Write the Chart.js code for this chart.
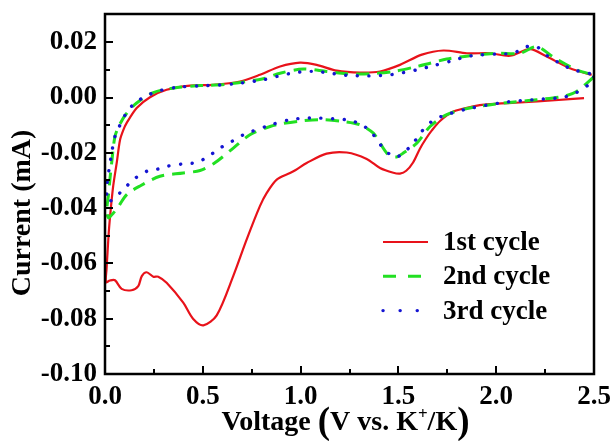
<!DOCTYPE html>
<html>
<head>
<meta charset="utf-8">
<script src="https://cdn.jsdelivr.net/npm/chart.js@4.4.1/dist/chart.umd.min.js"></script>
<style>
  html, body { margin: 0; padding: 0; background: #fff; }
  canvas { display: block; }
</style>
</head>
<body>
<canvas id="cv" width="614" height="441"></canvas>
<script>
// Cyclic voltammetry, three scans. Voltage (V vs. K+/K) and current (mA), in scan order.
const cycle1V = [2.449, 2.30, 2.122, 1.951, 1.883, 1.781, 1.713, 1.670, 1.640, 1.610,
  1.575, 1.540, 1.508, 1.474, 1.406, 1.338, 1.236, 1.133, 1.031, 0.975,
  0.946, 0.878, 0.827, 0.792, 0.724, 0.656, 0.571, 0.503, 0.45, 0.400,
  0.315, 0.272, 0.247, 0.213, 0.188, 0.170, 0.136, 0.085, 0.051, 0.025,
  0.005, 0.008, 0.013, 0.020, 0.030, 0.042, 0.060, 0.077, 0.094, 0.111,
  0.162, 0.230, 0.315, 0.435, 0.554, 0.690, 0.792, 0.895, 0.997, 1.082,
  1.185, 1.304, 1.406, 1.508, 1.620, 1.730, 1.850, 1.968, 2.071, 2.173,
  2.258, 2.377, 2.488];
const cycle1I = [-0.0002, -0.0010, -0.0018, -0.0025, -0.0032, -0.0051, -0.0085, -0.0120, -0.0150, -0.0185,
  -0.0235, -0.0265, -0.0275, -0.0272, -0.0255, -0.0222, -0.0199, -0.0203, -0.0237, -0.0262,
  -0.0273, -0.0297, -0.0345, -0.0393, -0.0514, -0.0645, -0.0788, -0.0824, -0.0800, -0.0742,
  -0.0670, -0.0648, -0.0648, -0.0632, -0.0646, -0.0682, -0.0697, -0.0692, -0.0661, -0.0662,
  -0.0668, -0.0620, -0.0560, -0.0480, -0.0400, -0.0320, -0.0236, -0.0153, -0.0117, -0.0092,
  -0.0038, 0.0001, 0.0028, 0.0043, 0.0046, 0.0058, 0.0082, 0.0112, 0.0126, 0.0118,
  0.0097, 0.0090, 0.0094, 0.0118, 0.0155, 0.0170, 0.0160, 0.0160, 0.0151, 0.0175,
  0.0148, 0.0106, 0.0082];

const cycle2V = [2.500, 2.411, 2.343, 2.207, 2.036, 1.866, 1.747, 1.662, 1.594, 1.525,
  1.491, 1.465, 1.440, 1.406, 1.372, 1.304, 1.219, 1.099, 1.000, 0.900,
  0.844, 0.741, 0.656, 0.560, 0.486, 0.400, 0.281, 0.179, 0.111, 0.068,
  0.040, 0.017, 0.010, 0.017, 0.026, 0.034, 0.051, 0.077, 0.110, 0.162,
  0.247, 0.367, 0.486, 0.622, 0.809, 0.895, 1.014, 1.133, 1.236, 1.355,
  1.474, 1.594, 1.662, 1.747, 1.866, 2.003, 2.122, 2.207, 2.292, 2.411, 2.496];
const cycle2I = [0.0075, 0.0022, 0.0004, -0.0008, -0.0020, -0.0038, -0.0062, -0.0105, -0.0165, -0.0201,
  -0.0215, -0.0213, -0.0201, -0.0165, -0.0129, -0.0099, -0.0087, -0.0080, -0.0085, -0.0095,
  -0.0105, -0.0135, -0.0183, -0.0237, -0.0264, -0.0273, -0.0285, -0.0320, -0.0351, -0.0395,
  -0.0420, -0.0435, -0.0400, -0.0357, -0.0290, -0.0237, -0.0141, -0.0095, -0.0058, -0.0020,
  0.0018, 0.0036, 0.0043, 0.0048, 0.0068, 0.0088, 0.0103, 0.0094, 0.0086, 0.0086,
  0.0094, 0.0112, 0.0124, 0.0139, 0.0151, 0.0160, 0.0160, 0.0184, 0.0146, 0.0100, 0.0082];

const cycle3V = [2.500, 2.471, 2.410, 2.343, 2.190, 2.036, 1.849, 1.730, 1.670, 1.619,
  1.576, 1.525, 1.491, 1.455, 1.415, 1.372, 1.321, 1.253, 1.168, 1.082,
  1.014, 0.946, 0.835, 0.707, 0.648, 0.588, 0.528, 0.469, 0.400, 0.315,
  0.264, 0.213, 0.145, 0.094, 0.042, 0.015, 0.009, 0.012, 0.022, 0.034,
  0.051, 0.077, 0.111, 0.153, 0.213, 0.281, 0.383, 0.520, 0.656, 0.809,
  0.878, 0.954, 1.022, 1.082, 1.150, 1.210, 1.270, 1.338, 1.389, 1.457,
  1.525, 1.594, 1.662, 1.781, 1.849, 1.917, 2.019, 2.087, 2.156, 2.207,
  2.266, 2.326, 2.394, 2.463, 2.500];
const cycle3I = [0.0075, 0.0046, 0.0018, 0.0001, -0.0008, -0.0018, -0.0042, -0.0066, -0.0087, -0.0123,
  -0.0165, -0.0201, -0.0215, -0.0205, -0.0177, -0.0135, -0.0102, -0.0083, -0.0077, -0.0074,
  -0.0075, -0.0080, -0.0102, -0.0135, -0.0159, -0.0183, -0.0213, -0.0235, -0.0240, -0.0249,
  -0.0260, -0.0267, -0.0297, -0.0333, -0.0367, -0.0378, -0.0360, -0.0303, -0.0255, -0.0201,
  -0.0141, -0.0099, -0.0054, -0.0020, 0.0006, 0.0025, 0.0038, 0.0043, 0.0049, 0.0064,
  0.0076, 0.0088, 0.0094, 0.0094, 0.0088, 0.0082, 0.0079, 0.0078, 0.0079, 0.0082,
  0.0090, 0.0100, 0.0112, 0.0134, 0.0148, 0.0154, 0.0158, 0.0160, 0.0184, 0.0184,
  0.0148, 0.0124, 0.0100, 0.0090, 0.0080];

const seriesLabels = ['1st cycle', '2nd cycle', '3rd cycle'];

const xTicks = [0, 0.5, 1.0, 1.5, 2.0, 2.5];
const xTickLabels = ['0.0', '0.5', '1.0', '1.5', '2.0', '2.5'];
const xMinorTicks = [0.25, 0.75, 1.25, 1.75, 2.25];
const yTicks = [-0.10, -0.08, -0.06, -0.04, -0.02, 0.00, 0.02];
const yTickLabels = ['-0.10', '-0.08', '-0.06', '-0.04', '-0.02', '0.00', '0.02'];
const yMinorTicks = [-0.09, -0.07, -0.05, -0.03, -0.01, 0.01];

const yTitle = 'Current (mA)';
const xTitleParts = [
  { text: 'Voltage ', size: 28, rise: 0 },
  { text: '(', size: 37, rise: 0 },
  { text: 'V vs. K', size: 28, rise: 0 },
  { text: '+', size: 17, rise: 11 },
  { text: '/K', size: 28, rise: 0 },
  { text: ')', size: 37, rise: 0 }
];

const SERIF = "'Liberation Serif', 'Times New Roman', serif";
const toPoints = (vs, is) => vs.map((v, k) => ({ x: v, y: is[k] }));

// Closed frame with inward tick marks on the left and bottom axes.
const frameAndTicks = {
  id: 'frameAndTicks',
  afterDatasetsDraw(chart) {
    const { ctx, chartArea: a, scales: { x, y } } = chart;
    ctx.save();
    ctx.strokeStyle = '#000';
    ctx.lineWidth = 2;
    ctx.beginPath();
    const tick = (vals, len, horiz) => vals.forEach(v => {
      if (horiz) {
        const px = Math.round(x.getPixelForValue(v));
        ctx.moveTo(px, a.bottom); ctx.lineTo(px, a.bottom - len);
      } else {
        const py = Math.round(y.getPixelForValue(v));
        ctx.moveTo(a.left, py); ctx.lineTo(a.left + len, py);
      }
    });
    tick(xTicks, 8, true); tick(xMinorTicks, 5, true);
    tick(yTicks, 8, false); tick(yMinorTicks, 5, false);
    ctx.stroke();
    ctx.lineWidth = 2.5;
    ctx.strokeRect(a.left, a.top, a.right - a.left, a.bottom - a.top);
    ctx.restore();
  }
};

// Legend inside the plot, lower right.
const legendDash = [[], [13, 12], [0.1, 17]];
const legendBox = {
  id: 'legendBox',
  afterDraw(chart) {
    const { ctx, chartArea: a } = chart;
    const x0 = a.left + 278, x1 = x0 + 45, tx = x0 + 60;
    chart.data.datasets.forEach((ds, i) => {
      const yy = a.top + 228 + i * 34.3;
      ctx.save();
      ctx.strokeStyle = ds.borderColor;
      ctx.lineWidth = ds.borderWidth;
      ctx.lineCap = ds.borderCapStyle || 'butt';
      ctx.setLineDash(legendDash[i]);
      ctx.beginPath(); ctx.moveTo(x0, yy); ctx.lineTo(x1, yy); ctx.stroke();
      ctx.setLineDash([]);
      ctx.fillStyle = '#000';
      ctx.font = `bold 27px ${SERIF}`;
      ctx.textAlign = 'left';
      ctx.textBaseline = 'middle';
      ctx.fillText(ds.label, tx, yy + 1);
      ctx.restore();
    });
  }
};

// Axis titles; the x title has tall brackets and a superscript.
const axisTitles = {
  id: 'axisTitles',
  afterDraw(chart) {
    const { ctx, chartArea: a } = chart;
    ctx.save();
    ctx.fillStyle = '#000';
    ctx.font = `bold 28px ${SERIF}`;
    ctx.translate(23, 213);
    ctx.rotate(-Math.PI / 2);
    ctx.textAlign = 'center';
    ctx.textBaseline = 'middle';
    ctx.fillText(yTitle, 0, 0);
    ctx.restore();

    ctx.save();
    ctx.fillStyle = '#000';
    ctx.textBaseline = 'alphabetic';
    ctx.textAlign = 'left';
    let total = 0;
    const widths = xTitleParts.map(p => {
      ctx.font = `bold ${p.size}px ${SERIF}`;
      const w = ctx.measureText(p.text).width;
      total += w;
      return w;
    });
    let cx = (a.left + a.right) / 2 - 4 - total / 2;
    const base = 430;
    xTitleParts.forEach((p, k) => {
      ctx.font = `bold ${p.size}px ${SERIF}`;
      ctx.fillText(p.text, cx, base - p.rise + (p.size > 30 ? 3 : 0));
      cx += widths[k];
    });
    ctx.restore();
  }
};

new Chart(document.getElementById('cv'), {
  type: 'scatter',
  data: {
    datasets: [
      { label: seriesLabels[0], data: toPoints(cycle1V, cycle1I),
        borderColor: 'rgb(232,18,26)', borderWidth: 2.2, order: 3 },
      { label: seriesLabels[1], data: toPoints(cycle2V, cycle2I),
        borderColor: 'rgb(34,224,34)', borderWidth: 3, borderDash: [13, 8], order: 2 },
      { label: seriesLabels[2], data: toPoints(cycle3V, cycle3I),
        borderColor: 'rgb(20,20,210)', borderWidth: 3.4, borderDash: [0.1, 11.5],
        borderCapStyle: 'round', order: 1 }
    ]
  },
  options: {
    responsive: false,
    animation: false,
    devicePixelRatio: 1,
    datasets: { scatter: { showLine: true, pointRadius: 0, tension: 0.3, fill: false } },
    layout: { padding: { top: 14, right: 20, left: 0, bottom: 0 } },
    plugins: { legend: { display: false }, tooltip: { enabled: false } },
    scales: {
      x: {
        type: 'linear', min: 0, max: 2.5,
        grid: { display: false, drawTicks: false },
        border: { display: false },
        afterBuildTicks(s) { s.ticks = xTicks.map(v => ({ value: v })); },
        afterFit(s) { s.height = 67; s.paddingLeft = 0; s.paddingRight = 0; },
        ticks: {
          padding: 7, color: '#000', maxRotation: 0, autoSkip: false,
          font: { family: SERIF, size: 27, weight: 'bold' },
          callback: v => xTickLabels[xTicks.findIndex(t => Math.abs(t - v) < 1e-9)]
        }
      },
      y: {
        type: 'linear', min: -0.10, max: 0.0302,
        grid: { display: false, drawTicks: false },
        border: { display: false },
        afterBuildTicks(s) { s.ticks = yTicks.map(v => ({ value: v })); },
        afterFit(s) { s.width = 105; s.paddingTop = 0; s.paddingBottom = 0; },
        ticks: {
          padding: 8, color: '#000', autoSkip: false,
          font: { family: SERIF, size: 27, weight: 'bold' },
          callback: v => yTickLabels[yTicks.findIndex(t => Math.abs(t - v) < 1e-9)]
        }
      }
    }
  },
  plugins: [frameAndTicks, legendBox, axisTitles]
});
</script>
</body>
</html>
